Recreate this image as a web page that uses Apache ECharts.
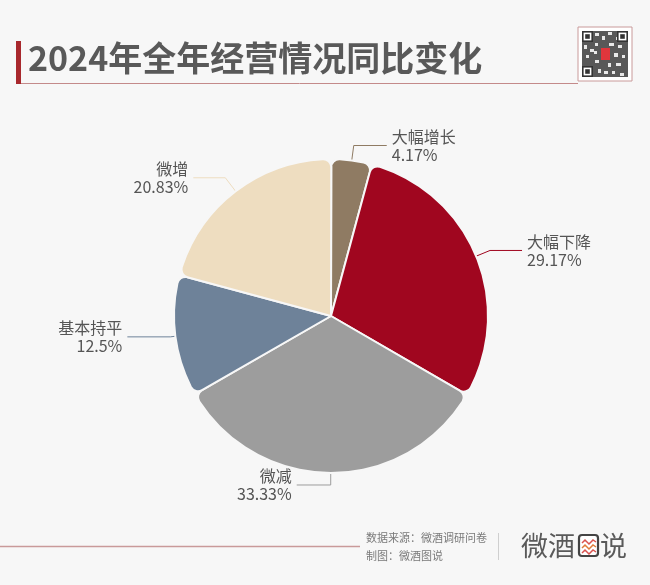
<!DOCTYPE html>
<html><head><meta charset="utf-8">
<script src="https://cdn.jsdelivr.net/npm/echarts@6/dist/echarts.min.js"></script>
<style>html,body{margin:0;padding:0;background:#f7f7f7}#c{width:650px;height:585px}</style>
</head><body><div id="c"></div>
<script>
const categories = ['大幅增长','大幅下降','微减','基本持平','微增'];
const counts = [1, 7, 8, 3, 5];
const colors = ['#8f7b63','#a0061f','#9d9d9d','#6e8299','#eeddc0'];
const lineLen = [15, 15, 12, 5, 17];
const lineLen2 = [33, 32, 34, 43, 32];
const titleText = '2024年全年经营情况同比变化';
const sourceText = '数据来源：微酒调研问卷';
const makerText = '制图：微酒图说';

const chart = echarts.init(document.getElementById('c'));
const F = '"Noto Sans CJK SC","Noto Sans",sans-serif';

const qrX = 578, qrY = 27, qrS = 54;
function finder(x, y) {
  return [
    {type:'rect', shape:{x:x, y:y, width:11, height:11}, style:{fill:'#333'}},
    {type:'rect', shape:{x:x+1.6, y:y+1.6, width:7.8, height:7.8}, style:{fill:'#fff'}},
    {type:'rect', shape:{x:x+3.2, y:y+3.2, width:4.6, height:4.6}, style:{fill:'#333'}}
  ];
}
const qrLight = [[17,6,4,3],[24,9,3,4],[30,5,4,3],[17,16,3,3],[31,16,5,3],[40,18,4,3],[6,18,3,4],[12,22,4,3],[8,28,3,3],[36,26,4,4],[44,28,3,3],[17,33,4,3],[30,36,3,4],[38,36,5,3],[20,42,3,4],[26,44,4,3],[34,44,3,3],[42,46,4,3],[16,24,3,3],[38,10,3,3]];
const qr = [
  {type:'rect', shape:{x:qrX, y:qrY, width:qrS, height:qrS}, style:{fill:'#fff', stroke:'#c99a9a', lineWidth:1}},
  {type:'rect', shape:{x:qrX+4, y:qrY+4, width:qrS-8, height:qrS-8}, style:{fill:'#585858'}},
  ...qrLight.map(r => ({type:'rect', shape:{x:qrX+r[0], y:qrY+r[1], width:r[2], height:r[3]}, style:{fill:'#e8e8e8'}})),
  ...finder(qrX+4, qrY+4), ...finder(qrX+qrS-15, qrY+4), ...finder(qrX+4, qrY+qrS-15),
  {type:'rect', shape:{x:qrX+23, y:qrY+21, width:9, height:12}, style:{fill:'#e0363c'}}
];

chart.setOption({
  backgroundColor: '#f7f7f7',
  animation: false,
  color: colors,
  graphic: [
    {type:'rect', shape:{x:16, y:41, width:5, height:43}, style:{fill:'#a8282d'}},
    {type:'line', shape:{x1:21, y1:83.5, x2:578, y2:83.5}, style:{stroke:'#c48a8a', lineWidth:1}},
    {type:'text', x:28, y:58, style:{text:titleText, font:'bold 34px '+F, fill:'#595959', textVerticalAlign:'middle'}},
    ...qr,
    {type:'line', shape:{x1:0, y1:546.5, x2:360, y2:546.5}, style:{stroke:'#c99a9a', lineWidth:1.5}},
    {type:'text', x:366, y:538, style:{text:sourceText, font:'11px '+F, fill:'#7a7a7a', textVerticalAlign:'middle'}},
    {type:'text', x:366, y:556, style:{text:makerText, font:'11px '+F, fill:'#7a7a7a', textVerticalAlign:'middle'}},
    {type:'line', shape:{x1:498.5, y1:533, x2:498.5, y2:560}, style:{stroke:'#cfcfcf', lineWidth:1}},
    {type:'text', x:521, y:546, style:{text:'微酒', font:'27px '+F, fill:'#5a5a5a', textVerticalAlign:'middle'}},
    {type:'rect', shape:{x:579, y:535, width:19, height:21, r:3}, style:{fill:'#fff', stroke:'#444', lineWidth:2.2}},
    {type:'polyline', shape:{points:[[582,543],[585,540],[589,544],[593,540],[596,542]]}, style:{stroke:'#d9534f', lineWidth:1.5, fill:null}},
    {type:'polyline', shape:{points:[[582,548],[585,545],[589,549],[593,545],[596,547]]}, style:{stroke:'#e07b3a', lineWidth:1.5, fill:null}},
    {type:'polyline', shape:{points:[[582,553],[585,550],[589,554],[593,550],[596,552]]}, style:{stroke:'#d9534f', lineWidth:1.5, fill:null}},
    {type:'text', x:600, y:546, style:{text:'说', font:'27px '+F, fill:'#5a5a5a', textVerticalAlign:'middle'}}
  ],
  series: [{
    type: 'pie',
    center: [331, 316],
    radius: [0, 157],
    startAngle: 89.9,
    clockwise: true,
    itemStyle: {borderColor:'#f7f7f7', borderWidth:2, borderRadius:8},
    label: {
      formatter: '{b}\n{d}%',
      fontFamily: F, fontSize: 16, lineHeight: 18, color: '#555'
    },
    labelLine: {lineStyle:{width:1}},
    data: categories.map((c, i) => ({
      name: c, value: counts[i],
      labelLine: {length: lineLen[i], length2: lineLen2[i]}
    }))
  }]
});
</script></body></html>
